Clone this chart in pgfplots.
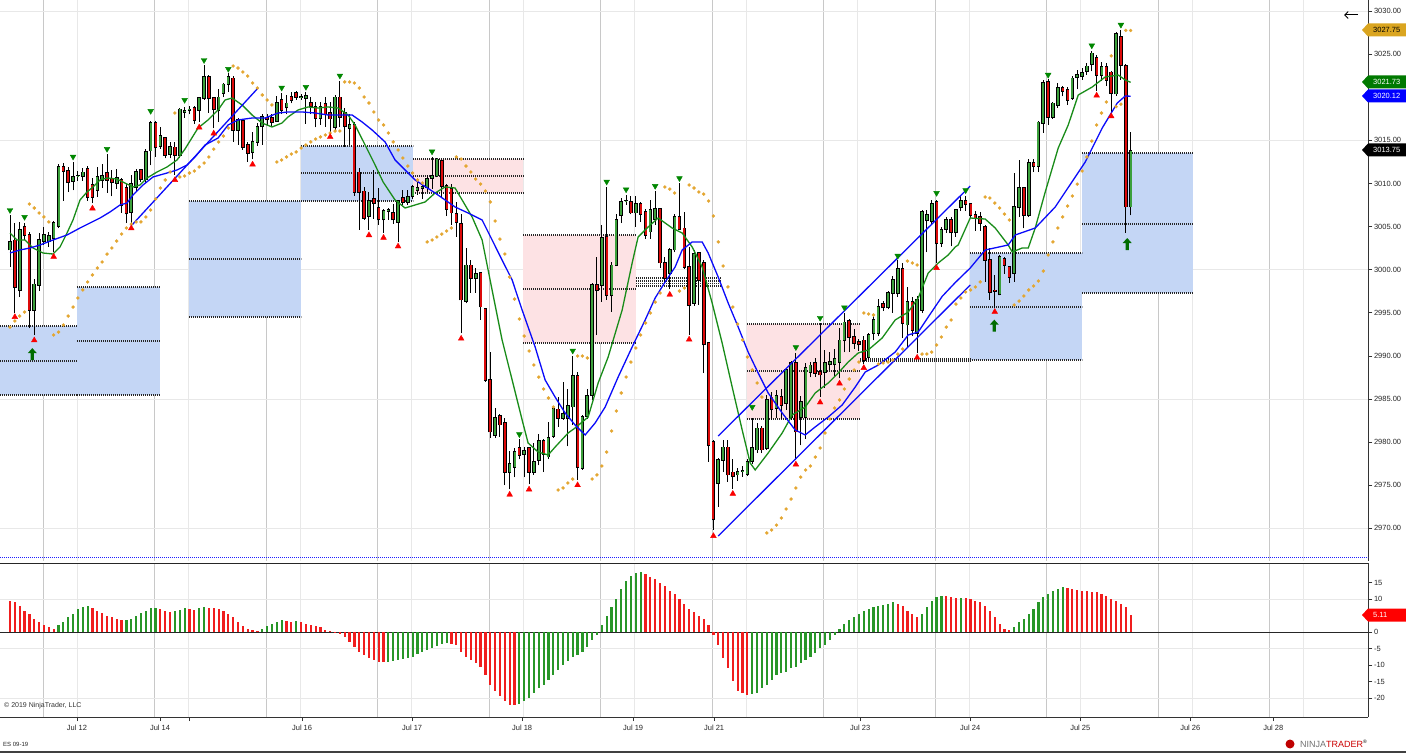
\documentclass[border=0pt]{standalone}
\usepackage{pgfplots}
\pgfplotsset{compat=1.18}
\usepackage{pgfplotstable}
\usepackage{fontspec}
\setmainfont{Liberation Sans}
\usetikzlibrary{arrows.meta}
\definecolor{upg}{RGB}{60,160,60}
\definecolor{dnr}{RGB}{220,10,10}
\definecolor{sar}{RGB}{228,166,48}
\definecolor{boxb}{RGB}{196,214,245}
\definecolor{boxp}{RGB}{253,226,228}
\definecolor{magreen}{RGB}{25,140,25}
\definecolor{mablue}{RGB}{10,10,250}
\definecolor{grd}{RGB}{200,200,200}
\definecolor{grl}{RGB}{232,232,232}
\definecolor{histg}{RGB}{40,150,40}
\definecolor{histr}{RGB}{240,30,30}
\definecolor{trig}{RGB}{0,135,0}
\definecolor{trir}{RGB}{250,0,0}
\definecolor{tagor}{RGB}{218,165,32}
\pgfdeclareplotmark{uparr}{%
  \pgfpathmoveto{\pgfpoint{0pt}{6pt}}%
  \pgfpathlineto{\pgfpoint{4.5pt}{1pt}}%
  \pgfpathlineto{\pgfpoint{1.6pt}{1pt}}%
  \pgfpathlineto{\pgfpoint{1.6pt}{-6pt}}%
  \pgfpathlineto{\pgfpoint{-1.6pt}{-6pt}}%
  \pgfpathlineto{\pgfpoint{-1.6pt}{1pt}}%
  \pgfpathlineto{\pgfpoint{-4.5pt}{1pt}}%
  \pgfpathclose\pgfusepathqfill}

\pgfplotstableread{
i o h l c s
0 3002.3 3006.3 3000.3 3003.2 2993.34
1 3003.4 3005.4 2995.0 2998.0 2994.04
2 2997.6 3005.5 2996.8 3004.6 2994.62
3 3005.0 3005.4 3003.4 3004.0 2995.08
4 3004.0 3004.4 2993.2 2995.3 3007.61
5 2995.3 2998.9 2992.4 2998.3 3007.15
6 2998.2 3004.3 2997.5 3003.5 3006.57
7 3003.3 3005.0 3002.9 3004.0 3006.11
8 3003.3 3004.4 3002.6 3003.9 3005.53
9 3003.6 3005.6 3002.0 3005.4 2992.42
10 3005.0 3012.2 3004.8 3011.9 2992.76
11 3011.9 3012.4 3008.0 3011.4 2993.58
12 3011.5 3011.9 3009.0 3010.1 2994.62
13 3010.3 3012.5 3009.2 3010.8 2995.66
14 3010.9 3011.5 3010.3 3010.9 2996.71
15 3010.8 3011.8 3010.3 3011.3 2997.64
16 3011.7 3012.0 3008.0 3008.4 2998.57
17 3009.8 3010.6 3007.7 3008.4 2999.38
18 3009.2 3011.9 3008.4 3010.8 3000.19
19 3010.4 3012.2 3009.5 3010.9 3000.89
20 3011.2 3013.4 3008.9 3010.4 3001.81
21 3010.5 3011.6 3008.5 3010.1 3002.51
22 3010.0 3011.7 3009.4 3010.7 3003.32
23 3010.4 3010.6 3006.6 3007.5 3004.13
24 3009.5 3010.0 3005.4 3006.5 3004.83
25 3006.7 3011.0 3005.4 3010.0 3005.29
26 3009.6 3011.7 3009.1 3011.4 3005.53
27 3011.6 3011.7 3010.2 3010.5 3005.53
28 3010.5 3014.0 3010.1 3013.7 3006.11
29 3013.8 3017.2 3012.1 3017.0 3006.92
30 3017.0 3017.2 3013.1 3014.2 3008.19
31 3014.3 3016.6 3014.0 3015.5 3009.47
32 3015.3 3015.4 3012.9 3013.3 3010.40
33 3013.4 3014.8 3012.9 3014.3 3011.33
34 3014.2 3014.8 3011.0 3013.3 3018.17
35 3013.3 3018.8 3012.9 3018.6 3010.75
36 3018.3 3018.9 3017.6 3018.4 3010.86
37 3018.5 3019.0 3018.0 3018.6 3011.21
38 3018.8 3019.0 3016.9 3017.3 3011.44
39 3018.5 3020.0 3017.1 3019.9 3011.91
40 3019.9 3023.7 3019.7 3022.4 3012.37
41 3022.4 3022.6 3018.2 3019.9 3013.07
42 3019.9 3020.0 3016.4 3018.6 3013.99
43 3018.5 3021.0 3017.1 3020.0 3014.81
44 3020.5 3021.6 3020.0 3021.5 3015.50
45 3021.5 3022.8 3020.6 3022.4 3016.43
46 3022.2 3022.5 3014.8 3016.2 3023.62
47 3016.2 3017.6 3014.5 3017.4 3023.39
48 3017.3 3017.5 3013.9 3014.2 3022.93
49 3014.5 3014.8 3012.5 3013.5 3022.46
50 3013.6 3016.0 3012.8 3014.8 3021.65
51 3014.8 3017.0 3014.4 3016.6 3021.07
52 3016.6 3018.1 3014.5 3017.7 3020.26
53 3017.6 3018.0 3016.8 3017.4 3019.68
54 3017.6 3018.1 3016.6 3017.1 3019.10
55 3017.2 3020.2 3017.1 3019.4 3012.49
56 3019.7 3020.5 3018.1 3018.5 3012.72
57 3018.8 3020.3 3018.0 3019.3 3013.07
58 3020.1 3020.6 3019.3 3019.7 3013.41
59 3020.5 3020.7 3019.7 3020.0 3013.65
60 3020.0 3020.4 3019.7 3020.1 3014.11
61 3019.9 3020.6 3016.9 3020.2 3014.46
62 3019.4 3020.0 3018.0 3019.0 3014.81
63 3018.9 3019.4 3016.5 3017.6 3015.15
64 3017.6 3019.5 3016.8 3018.9 3015.39
65 3019.2 3020.0 3016.6 3018.0 3015.62
66 3018.2 3019.4 3015.9 3017.5 3015.85
67 3016.5 3020.3 3016.2 3020.0 3016.08
68 3020.0 3021.9 3016.5 3017.7 3016.08
69 3018.2 3018.7 3014.2 3016.6 3021.77
70 3016.4 3018.0 3014.5 3016.8 3021.77
71 3016.8 3017.1 3008.6 3009.0 3021.65
72 3011.3 3011.8 3004.6 3009.0 3021.07
73 3009.1 3009.6 3005.8 3006.0 3020.03
74 3006.2 3009.0 3004.6 3008.0 3019.33
75 3008.2 3011.6 3005.9 3007.7 3018.29
76 3007.2 3009.5 3005.2 3005.8 3017.36
77 3005.8 3007.0 3004.3 3006.8 3016.78
78 3006.8 3007.2 3005.8 3006.9 3015.85
79 3006.6 3007.6 3005.3 3005.8 3014.81
80 3005.5 3008.1 3003.2 3008.0 3013.88
81 3008.3 3009.2 3007.5 3007.8 3012.95
82 3007.8 3009.2 3007.5 3008.5 3012.02
83 3008.5 3009.8 3008.2 3009.6 3011.21
84 3009.2 3010.4 3008.7 3009.5 3010.40
85 3009.4 3010.1 3008.2 3009.6 3010.05
86 3009.5 3011.0 3009.0 3010.5 3003.21
87 3010.6 3013.1 3009.4 3010.9 3003.44
88 3010.9 3013.0 3010.7 3012.8 3003.79
89 3012.6 3012.7 3008.3 3009.7 3004.13
90 3009.7 3009.9 3006.2 3007.0 3004.48
91 3009.4 3009.9 3005.2 3006.6 3004.83
92 3006.5 3007.8 3003.8 3005.5 3013.07
93 3005.3 3006.4 2992.6 2996.5 3012.83
94 2996.3 3002.5 2996.1 3000.5 3012.02
95 3000.5 3001.1 2997.3 2999.0 3011.33
96 2999.0 3000.2 2997.3 2999.5 3010.51
97 2999.6 2999.7 2994.2 2995.7 3009.93
98 2995.5 2995.6 2987.0 2987.2 3009.12
99 2987.2 2990.4 2980.5 2981.2 3007.85
100 2980.8 2984.0 2980.5 2982.8 3005.64
101 2983.0 2983.2 2980.6 2982.0 3003.55
102 2982.2 2982.8 2975.0 2976.5 3001.81
103 2976.5 2979.0 2974.5 2977.5 2999.14
104 2977.1 2979.3 2975.9 2978.9 2996.59
105 2979.3 2980.3 2978.0 2978.5 2994.27
106 2978.6 2979.4 2975.9 2979.0 2992.30
107 2979.3 2979.4 2975.1 2976.5 2990.56
108 2976.5 2979.9 2976.2 2977.7 2988.94
109 2977.9 2980.9 2977.3 2980.1 2987.54
110 2980.1 2980.3 2976.5 2978.6 2986.15
111 2978.3 2982.3 2978.0 2980.5 2985.11
112 2980.7 2984.1 2980.5 2983.9 2984.06
113 2983.8 2985.2 2981.8 2982.8 2974.44
114 2982.8 2987.0 2982.6 2983.3 2974.67
115 2982.8 2986.2 2979.5 2984.2 2975.25
116 2984.1 2990.0 2982.0 2987.7 2975.71
117 2987.7 2988.1 2975.6 2977.1 2989.98
118 2977.0 2983.1 2976.8 2982.9 2989.98
119 2983.0 2986.2 2982.7 2985.4 2989.75
120 2985.4 2998.4 2984.9 2998.2 2975.71
121 2998.2 3001.5 2992.4 2997.6 2976.18
122 2998.2 3005.2 2996.3 3003.7 2977.22
123 3003.8 3009.6 2996.5 2997.0 2978.84
124 2997.0 3000.9 2995.1 3000.5 2981.28
125 3000.5 3006.5 3000.4 3005.8 2983.60
126 3006.3 3008.3 3005.4 3007.9 2985.69
127 3008.0 3008.7 3007.5 3008.0 2987.54
128 3007.9 3008.6 3006.4 3006.6 2989.28
129 3006.6 3008.6 3005.0 3007.6 2990.91
130 3007.6 3007.8 3005.5 3006.4 2992.42
131 3006.7 3007.0 3003.6 3004.0 2993.81
132 3004.4 3008.1 3003.6 3006.9 2994.97
133 3005.8 3009.1 3005.2 3007.1 2996.24
134 3007.1 3007.2 3000.2 3000.8 2997.29
135 3000.8 3001.5 2998.4 2999.0 3009.59
136 2999.6 3002.5 2997.7 3002.3 3009.35
137 3002.3 3006.5 3002.0 3006.1 3008.89
138 3006.1 3010.0 3004.6 3004.7 2997.52
139 3004.8 3006.7 3000.1 3000.3 2997.87
140 3000.3 3002.6 2992.4 2995.9 3009.82
141 2996.1 3002.3 2995.8 3001.8 3009.47
142 3002.0 3002.1 2995.9 2998.8 3009.01
143 3000.8 3001.1 2988.0 2991.3 3008.77
144 2991.5 2991.6 2977.7 2979.6 3007.96
145 2980.0 2980.2 2969.8 2971.0 3006.22
146 2975.2 2978.2 2972.5 2977.9 3003.21
147 2977.9 2980.2 2976.5 2979.4 3000.42
148 2979.4 2980.2 2975.4 2976.2 2997.99
149 2976.5 2978.0 2974.6 2976.0 2995.66
150 2976.2 2977.0 2975.5 2976.6 2993.69
151 2976.6 2977.2 2976.0 2976.7 2991.84
152 2976.3 2978.0 2976.1 2977.7 2989.86
153 2977.8 2982.8 2977.4 2979.3 2988.36
154 2979.1 2982.2 2978.7 2981.6 2986.85
155 2981.6 2981.9 2978.7 2979.1 2985.22
156 2979.3 2985.4 2979.1 2984.9 2969.45
157 2985.2 2985.8 2982.6 2983.8 2969.79
158 2983.9 2986.0 2982.8 2985.4 2970.37
159 2985.3 2986.1 2982.7 2984.3 2971.19
160 2984.5 2988.6 2983.7 2988.4 2972.23
161 2982.9 2989.4 2982.6 2989.2 2973.39
162 2989.2 2990.3 2977.9 2981.2 2974.67
163 2982.9 2985.3 2979.6 2984.7 2975.94
164 2982.9 2989.2 2980.4 2988.6 2976.76
165 2988.1 2989.3 2987.5 2988.9 2977.22
166 2989.2 2989.7 2987.6 2988.0 2978.26
167 2988.2 2993.8 2985.2 2987.8 2979.31
168 2988.1 2990.7 2986.3 2989.2 2981.05
169 2989.0 2990.5 2988.3 2989.3 2982.67
170 2989.0 2990.8 2987.6 2989.7 2983.95
171 2989.3 2993.2 2987.4 2991.8 2984.88
172 2991.8 2995.0 2990.4 2993.9 2986.15
173 2994.1 2994.3 2990.5 2992.2 2987.31
174 2992.2 2993.1 2990.8 2991.5 2988.36
175 2991.6 2992.0 2990.6 2991.3 2989.28
176 2991.8 2992.3 2989.1 2989.5 2994.97
177 2989.8 2992.7 2989.5 2992.4 2994.85
178 2992.6 2994.6 2991.8 2994.2 2994.74
179 2992.6 2996.6 2992.3 2995.7 2989.05
180 2996.0 2996.4 2995.2 2995.6 2989.17
181 2995.6 2997.5 2995.4 2997.3 2989.28
182 2997.3 2999.3 2995.0 2998.8 2989.52
183 2997.3 3001.1 2996.8 3000.1 2990.21
184 3000.1 3000.8 2992.1 2993.8 2990.79
185 2993.6 2998.0 2991.0 2996.3 3001.00
186 2996.3 2996.8 2992.3 2993.0 3000.77
187 2992.6 2996.9 2990.3 2996.5 3000.54
188 2995.3 3006.9 2995.0 3006.7 2990.21
189 3005.7 3006.9 3002.0 3006.4 2990.21
190 3005.6 3008.1 3005.3 3007.6 2990.44
191 3007.9 3008.1 3000.8 3003.1 2991.26
192 3003.1 3005.0 3002.6 3004.6 2992.18
193 3004.7 3006.1 3004.3 3005.8 2993.34
194 3005.8 3006.1 3002.7 3004.3 2994.16
195 3004.3 3007.0 3003.8 3006.9 2996.01
196 3007.2 3008.5 3006.8 3008.0 2996.71
197 3008.0 3008.6 3006.8 3007.6 2997.41
198 3007.6 3007.7 3006.0 3006.3 2997.64
199 3006.4 3006.8 3004.5 3006.0 2997.99
200 3006.1 3006.7 3004.5 3005.4 2998.57
201 3005.0 3005.2 2998.6 3001.1 3008.43
202 3001.1 3002.5 2996.5 2997.4 3008.31
203 2997.6 2999.4 2995.6 2997.5 3007.73
204 2997.1 3001.7 2997.0 3001.5 3007.15
205 3001.3 3001.5 2999.5 3000.5 3006.45
206 3000.3 3000.4 2998.5 2999.1 3005.76
207 2999.6 3011.2 2998.6 3007.3 2995.90
208 3007.2 3012.7 3006.1 3009.5 2996.36
209 3009.5 3009.6 3004.8 3006.3 2996.94
210 3006.3 3012.8 3006.1 3012.4 2997.64
211 3012.4 3012.8 3011.3 3012.0 2998.10
212 3012.0 3017.3 3011.3 3017.1 2998.68
213 3017.0 3022.0 3015.9 3021.7 2999.84
214 3021.8 3022.1 3016.8 3017.7 3001.70
215 3017.7 3019.5 3017.5 3019.3 3003.21
216 3019.1 3021.6 3018.8 3021.1 3004.83
217 3021.1 3021.3 3020.1 3020.7 3006.11
218 3020.9 3021.2 3019.1 3019.7 3007.38
219 3019.9 3022.5 3019.7 3022.2 3008.54
220 3022.3 3023.2 3020.9 3022.6 3009.93
221 3022.4 3023.4 3022.0 3022.8 3011.44
222 3023.0 3024.0 3022.6 3023.6 3013.07
223 3023.8 3025.4 3023.0 3025.1 3014.92
224 3024.6 3024.9 3020.7 3022.6 3016.78
225 3022.6 3024.1 3021.9 3023.5 3018.17
226 3023.5 3024.0 3021.3 3022.0 3019.45
227 3022.9 3023.0 3018.3 3020.5 3024.80
228 3020.4 3027.6 3020.2 3027.4 3018.90
229 3027.0 3027.75 3022.0 3023.7 3019.20
230 3023.7 3023.8 3004.3 3007.3 3027.75
231 3007.3 3016.0 3006.3 3013.75 3027.75
}\candles

\pgfplotstableread{
i v g
0 9.5 0
1 9.0 0
2 8.0 0
3 6.5 0
4 5.5 0
5 4.0 0
6 3.0 0
7 2.0 0
8 1.5 0
9 1.0 0
10 2.0 1
11 3.0 1
12 4.5 1
13 5.5 1
14 7.0 1
15 7.5 1
16 7.8 1
17 7.2 0
18 6.5 0
19 5.8 0
20 5.0 0
21 4.5 0
22 4.0 0
23 3.5 0
24 3.7 1
25 4.0 1
26 4.8 1
27 5.8 1
28 6.5 1
29 7.2 1
30 7.4 1
31 7.0 0
32 6.3 0
33 6.0 0
34 6.3 1
35 6.8 1
36 7.2 1
37 7.1 0
38 6.8 0
39 7.2 1
40 7.6 1
41 7.3 0
42 7.2 0
43 7.0 0
44 6.5 0
45 5.5 0
46 4.5 0
47 3.0 0
48 1.8 0
49 1.0 0
50 0.5 0
51 0.4 0
52 1.0 1
53 1.8 1
54 2.5 1
55 3.0 1
56 3.5 1
57 3.3 0
58 3.0 0
59 3.2 1
60 3.0 0
61 2.5 0
62 2.0 0
63 1.8 0
64 1.5 0
65 0.5 0
66 0.2 0
67 0.1 0
68 -0.5 0
69 -1.5 0
70 -3.0 0
71 -4.5 0
72 -6.0 0
73 -7.0 0
74 -7.8 0
75 -8.5 0
76 -9.0 0
77 -9.2 0
78 -9.0 1
79 -8.9 1
80 -8.5 1
81 -8.2 1
82 -8.0 1
83 -7.5 1
84 -6.7 1
85 -6.0 1
86 -5.5 1
87 -4.8 1
88 -4.2 1
89 -3.5 1
90 -3.3 1
91 -3.5 0
92 -4.0 0
93 -6.0 0
94 -7.5 0
95 -8.5 0
96 -9.5 0
97 -10.5 0
98 -13.0 0
99 -16.0 0
100 -18.0 0
101 -19.5 0
102 -21.0 0
103 -22.0 0
104 -22.2 0
105 -21.8 1
106 -21.0 1
107 -20.0 1
108 -18.5 1
109 -17.0 1
110 -16.0 1
111 -14.5 1
112 -13.0 1
113 -11.5 1
114 -10.0 1
115 -8.8 1
116 -7.5 1
117 -7.0 1
118 -6.0 1
119 -4.5 1
120 -2.5 1
121 -1.0 1
122 2.0 1
123 5.0 1
124 7.5 1
125 10.0 1
126 13.0 1
127 15.5 1
128 17.0 1
129 17.8 1
130 18.3 1
131 17.5 0
132 16.8 0
133 16.0 0
134 15.0 0
135 14.0 0
136 12.5 0
137 11.5 0
138 10.0 0
139 8.5 0
140 7.0 0
141 6.0 0
142 5.0 0
143 4.0 0
144 2.0 0
145 -1.0 0
146 -4.0 0
147 -8.0 0
148 -11.0 0
149 -15.0 0
150 -18.0 0
151 -18.5 0
152 -19.0 0
153 -18.8 1
154 -18.5 1
155 -17.0 1
156 -16.0 1
157 -14.5 1
158 -13.0 1
159 -12.5 1
160 -12.0 1
161 -11.0 1
162 -10.5 1
163 -9.5 1
164 -8.5 1
165 -7.5 1
166 -6.5 1
167 -5.0 1
168 -4.0 1
169 -2.5 1
170 -1.0 1
171 1.0 1
172 2.5 1
173 3.5 1
174 4.5 1
175 5.5 1
176 6.5 1
177 7.0 1
178 7.5 1
179 8.0 1
180 8.2 1
181 8.5 1
182 9.0 1
183 8.5 0
184 7.8 0
185 6.5 0
186 5.5 0
187 4.5 0
188 5.5 1
189 7.5 1
190 9.5 1
191 10.5 1
192 11.0 1
193 10.8 0
194 10.5 0
195 10.3 0
196 10.4 1
197 10.3 0
198 10.0 0
199 9.5 0
200 9.0 0
201 8.0 0
202 6.5 0
203 4.5 0
204 2.5 0
205 1.0 0
206 0.5 0
207 1.5 1
208 3.0 1
209 4.0 1
210 5.5 1
211 7.0 1
212 9.0 1
213 10.5 1
214 11.5 1
215 12.3 1
216 13.0 1
217 13.5 1
218 13.4 0
219 13.0 0
220 12.8 0
221 12.5 0
222 12.3 0
223 12.2 0
224 12.0 0
225 11.5 0
226 11.0 0
227 10.0 0
228 9.5 0
229 8.5 0
230 7.5 0
231 5.11 0
}\hist

\begin{document}
\begin{tikzpicture}[x=1pt,y=1pt]
\useasboundingbox (0,0) rectangle (1406,753);
\fill[white] (0,0) rectangle (1406,753);

\begin{axis}[
  at={(0pt,192pt)}, anchor=south west, scale only axis,
  width=1368pt, height=561pt,
  xmin=-2.062, xmax=280.0, ymin=2966.20, ymax=3031.28,
  axis x line=none, axis y line*=right,
  y axis line style={draw=black!80, line width=0.8pt, -},
  ytick={2970,2975,...,3030},
  yticklabel={\pgfmathprintnumber[fixed,fixed zerofill,precision=2,1000 sep={}]{\tick}},
  /pgf/number format/assume math mode=true,
  tick align=outside, major tick length=4pt,
  every tick/.style={black!80, line width=0.6pt},
  yticklabel style={font=\fontsize{7.5}{9}\selectfont, text=black!85, inner sep=1.5pt},
]
% grid
\pgfplotsinvokeforeach{6.80,29.79,52.78,75.77,98.76,121.75,144.74,167.73,190.72,213.71,236.70,259.69}{
  \draw[grd, line width=0.8pt] (axis cs:#1,2966.2) -- (axis cs:#1,3031.28);}
\pgfplotsinvokeforeach{13.81,36.80,59.79,82.78,105.77,128.76,151.75,174.74,197.73,220.72,243.71,266.70}{
  \draw[grl, line width=0.8pt] (axis cs:#1,2966.2) -- (axis cs:#1,3031.28);}
\pgfplotsinvokeforeach{2970,2985,3000,3015,3030}{
  \draw[grl, line width=0.8pt] (axis cs:-2.062,#1) -- (axis cs:280,#1);}

% boxes
\addplot[fill=boxb, draw=none] coordinates {(-2.062,2985.46) (13.81,2985.46) (13.81,2993.46) (-2.062,2993.46)};
\addplot[fill=boxb, draw=none] coordinates {(13.81,2985.46) (30.93,2985.46) (30.93,2997.99) (13.81,2997.99)};
\addplot[fill=boxb, draw=none] coordinates {(36.91,2994.50) (60.00,2994.50) (60.00,3007.96) (36.91,3007.96)};
\addplot[fill=boxb, draw=none] coordinates {(60.00,3007.96) (83.09,3007.96) (83.09,3014.34) (60.00,3014.34)};
\addplot[fill=boxp, draw=none] coordinates {(83.09,3008.89) (105.77,3008.89) (105.77,3012.83) (83.09,3012.83)};
\addplot[fill=boxp, draw=none] coordinates {(105.77,2991.49) (129.07,2991.49) (129.07,3004.02) (105.77,3004.02)};
\addplot[fill=boxp, draw=none] coordinates {(151.96,2982.67) (175.26,2982.67) (175.26,2993.69) (151.96,2993.69)};
\addplot[fill=boxb, draw=none] coordinates {(197.94,2989.52) (221.03,2989.52) (221.03,3001.93) (197.94,3001.93)};
\addplot[fill=boxb, draw=none] coordinates {(221.03,2997.29) (243.92,2997.29) (243.92,3013.53) (221.03,3013.53)};

\pgfplotsset{dotl/.style={black!85, line width=1.2pt, dash pattern=on 1pt off 1pt, forget plot}}
\addplot[dotl] coordinates {(-2.062,2993.46) (13.81,2993.46)};
\addplot[dotl] coordinates {(-2.062,2989.40) (13.81,2989.40)};
\addplot[dotl] coordinates {(-2.062,2985.46) (13.81,2985.46)};
\addplot[dotl] coordinates {(13.81,2997.99) (30.93,2997.99)};
\addplot[dotl] coordinates {(13.81,2991.72) (30.93,2991.72)};
\addplot[dotl] coordinates {(13.81,2985.46) (30.93,2985.46)};
\addplot[dotl] coordinates {(36.91,3007.96) (60.00,3007.96)};
\addplot[dotl] coordinates {(36.91,3001.23) (60.00,3001.23)};
\addplot[dotl] coordinates {(36.91,2994.50) (60.00,2994.50)};
\addplot[dotl] coordinates {(60.00,3014.34) (83.09,3014.34)};
\addplot[dotl] coordinates {(60.00,3011.21) (83.09,3011.21)};
\addplot[dotl] coordinates {(60.00,3007.96) (83.09,3007.96)};
\addplot[dotl] coordinates {(83.09,3012.83) (105.77,3012.83)};
\addplot[dotl] coordinates {(83.09,3010.86) (105.77,3010.86)};
\addplot[dotl] coordinates {(83.09,3008.89) (105.77,3008.89)};
\addplot[dotl] coordinates {(105.77,3004.02) (129.07,3004.02)};
\addplot[dotl] coordinates {(105.77,2997.75) (129.07,2997.75)};
\addplot[dotl] coordinates {(105.77,2991.49) (129.07,2991.49)};
\addplot[dotl] coordinates {(129.07,2999.03) (146.39,2999.03)};
\addplot[dotl] coordinates {(129.07,2998.68) (146.39,2998.68)};
\addplot[dotl] coordinates {(129.07,2998.39) (146.39,2998.39)};
\addplot[dotl] coordinates {(129.07,2998.10) (146.39,2998.10)};
\addplot[dotl] coordinates {(151.96,2993.69) (175.26,2993.69)};
\addplot[dotl] coordinates {(151.96,2988.24) (175.26,2988.24)};
\addplot[dotl] coordinates {(151.96,2982.67) (175.26,2982.67)};
\addplot[dotl] coordinates {(175.26,2989.63) (197.94,2989.63)};
\addplot[dotl] coordinates {(175.26,2989.40) (197.94,2989.40)};
\addplot[dotl] coordinates {(197.94,3001.93) (221.03,3001.93)};
\addplot[dotl] coordinates {(197.94,2995.67) (221.03,2995.67)};
\addplot[dotl] coordinates {(197.94,2989.52) (221.03,2989.52)};
\addplot[dotl] coordinates {(221.03,3013.53) (243.92,3013.53)};
\addplot[dotl] coordinates {(221.03,3005.29) (243.92,3005.29)};
\addplot[dotl] coordinates {(221.03,2997.29) (243.92,2997.29)};
\addplot[color={rgb,255:red,30;green,30;blue,255}, line width=1pt, dash pattern=on 1pt off 1pt] coordinates {(-2.062,2966.66) (280,2966.66)};

% parabolic SAR
\addplot[only marks, mark=*, mark size=1.5pt, mark options={draw=sar, fill=sar}] table[x=i, y=s] {\candles};

% candles: wicks
\addplot[black, line width=1pt, quiver={u=0, v=\thisrow{h}-\thisrow{l}}] table[x=i, y=l] {\candles};
% up bodies
\addplot[black, line width=3.6pt, quiver={u=0, v=\thisrow{c}-\thisrow{o}+0.16},
  restrict expr to domain={\thisrow{c}-\thisrow{o}}{0:1000}] table[x=i, y expr=\thisrow{o}-0.08] {\candles};
\addplot[upg, line width=2.0pt, quiver={u=0, v=\thisrow{c}-\thisrow{o}-0.04},
  restrict expr to domain={\thisrow{c}-\thisrow{o}}{0:1000}] table[x=i, y expr=\thisrow{o}+0.02] {\candles};
% down bodies
\addplot[black, line width=3.6pt, quiver={u=0, v=\thisrow{o}-\thisrow{c}+0.16},
  restrict expr to domain={\thisrow{c}-\thisrow{o}}{-1000:-0.001}] table[x=i, y expr=\thisrow{c}-0.08] {\candles};
\addplot[dnr, line width=2.0pt, quiver={u=0, v=\thisrow{o}-\thisrow{c}-0.04},
  restrict expr to domain={\thisrow{c}-\thisrow{o}}{-1000:-0.001}] table[x=i, y expr=\thisrow{c}+0.02] {\candles};

% moving averages
\addplot[magreen, line width=1.3pt] coordinates {(0,3004.25) (1.44,3003.44) (3.09,3003.44) (4.74,3002.51) (6.80,3001.93) (8.87,3001.81) (10.31,3002.63) (11.75,3004.25) (12.99,3005.76) (14.43,3008.08) (15.88,3009.01) (17.11,3009.59) (18.56,3010.40) (20.0,3010.63) (22.06,3010.51) (24.12,3009.93) (25.36,3009.59) (26.80,3009.82) (28.25,3010.63) (30.31,3011.33) (32.37,3011.91) (34.43,3012.72) (36.08,3014.0) (38.76,3016.43) (40.82,3017.36) (42.89,3018.52) (44.33,3019.68) (45.77,3019.91) (47.84,3019.10) (49.90,3017.94) (51.96,3017.01) (54.02,3016.55) (56.08,3017.01) (57.32,3017.71) (59.38,3018.52) (61.44,3018.87) (63.51,3018.75) (65.57,3018.87) (67.63,3018.75) (69.69,3017.94) (71.13,3016.78) (73.20,3014.46) (75.26,3012.14) (76.91,3010.17) (79.38,3008.08) (81.44,3007.15) (83.51,3007.50) (85.57,3007.85) (87.63,3008.89) (89.69,3009.59) (91.75,3009.47) (93.20,3008.08) (95.26,3006.11) (97.32,3003.44) (99.38,2997.64) (101.44,2991.84) (103.51,2987.20) (105.57,2982.56) (106.80,2979.89) (108.87,2978.84) (110.93,2978.50) (112.37,2979.42) (115.05,2981.05) (116.49,2981.63) (119.18,2982.90) (121.24,2986.85) (123.30,2989.86) (126.19,2995.32) (128.25,3000.77) (129.48,3003.79) (131.55,3004.95) (133.61,3005.99) (136.49,3004.83) (138.56,3004.25) (140.62,3002.63) (142.68,3000.31) (144.74,2996.13) (146.80,2991.49) (148.87,2986.38) (150.93,2981.40) (152.58,2977.57) (153.61,2976.76) (156.29,2978.73) (159.18,2981.05) (161.24,2983.14) (163.92,2984.06) (165.98,2985.69) (168.66,2986.85) (170.72,2988.01) (172.78,2989.28) (174.85,2990.33) (176.91,2990.68) (179.79,2992.07) (182.47,2994.16) (185.15,2995.08) (187.22,2996.71) (189.28,2999.61) (191.34,3000.77) (193.40,3001.70) (194.85,3002.63) (195.46,3002.86) (197.94,3005.99) (201.03,3005.87) (203.09,3004.83) (205.77,3002.86) (206.60,3002.05) (208.66,3002.51) (209.90,3002.51) (211.34,3004.83) (213.40,3009.01) (216.08,3014.11) (218.14,3016.78) (220.21,3020.26) (223.09,3021.19) (225.77,3022.35) (228.45,3022.58) (229.90,3022.00) (231,3021.73)};
\addplot[mablue, line width=1.3pt] coordinates {(0,3001.93) (2.06,3002.28) (4.12,3002.51) (6.19,3002.86) (8.87,3003.44) (11.75,3004.02) (14.43,3004.83) (16.49,3005.41) (18.56,3005.99) (20.62,3006.69) (22.68,3007.50) (24.12,3007.73) (25.36,3008.66) (27.42,3009.82) (29.48,3010.75) (32.37,3011.21) (34.43,3011.56) (36.49,3012.14) (38.14,3013.07) (40.21,3014.46) (42.89,3015.27) (44.95,3016.78) (47.01,3017.36) (49.90,3017.59) (52.58,3017.59) (55.26,3018.17) (57.32,3018.29) (60.21,3018.29) (62.89,3018.17) (65.57,3017.94) (68.45,3017.94) (70.52,3017.94) (72.58,3017.13) (74.64,3016.20) (77.32,3014.81) (79.38,3012.72) (83.51,3010.40) (87.63,3008.89) (91.75,3007.27) (94.43,3006.57) (97.32,3005.76) (99.38,3003.44) (101.44,3001.11) (103.51,2998.80) (105.57,2995.32) (108.25,2991.03) (110.31,2987.20) (112.37,2985.22) (114.43,2983.37) (116.49,2981.98) (118.56,2980.82) (120.62,2982.21) (122.68,2984.06) (125.36,2987.54) (128.25,2991.03) (130.93,2994.16) (132.99,2996.71) (135.05,2998.57) (137.11,3000.31) (138.56,3002.28) (140.62,3003.21) (142.68,3003.21) (143.92,3001.93) (145.98,2999.15) (148.04,2996.13) (150.10,2993.35) (152.16,2990.44) (154.23,2988.01) (156.29,2985.69) (159.18,2983.37) (161.86,2981.40) (163.92,2980.82) (165.98,2981.75) (168.66,2982.90) (171.55,2984.30) (174.23,2986.38) (176.29,2988.12) (179.01,2988.94) (182.47,2990.44) (185.15,2992.42) (187.22,2992.76) (189.28,2994.50) (192.16,2996.90) (194.85,2998.50) (197.94,3000.19) (201.03,3002.28) (205.77,3002.86) (207.22,3004.02) (211.34,3004.83) (215.46,3007.27) (221.65,3012.49) (225.15,3016.43) (228.25,3019.33) (229.90,3020.14) (231,3020.12)};

% trend lines
\addplot[mablue, line width=1.3pt] coordinates {(25.15,3005.18) (51.13,3021.07)};
\addplot[mablue, line width=1.3pt] coordinates {(145.98,2980.70) (197.94,3009.70)};
\addplot[mablue, line width=1.3pt] coordinates {(145.98,2969.10) (197.94,2998.22)};

% swing markers
\addplot[only marks, mark=triangle*, mark size=3.3pt, mark options={fill=trig, draw=trig, rotate=180}] coordinates {(0,3006.9) (3,3006.11) (13,3013.1) (20,3014.0) (29,3018.4) (36,3019.68) (40,3024.3) (45,3023.28) (56,3021.1) (61,3021.19) (68,3022.5) (87,3013.7) (105,2980.9) (116,2990.6) (123,3010.2) (127,3009.3) (133,3009.7) (138,3010.6) (153,2984.06) (162,2991.0) (167,2994.4) (172,2995.6) (183,3001.6) (191,3008.89) (197,3009.2) (214,3022.6) (223,3026.0) (229,3028.4)};
\addplot[only marks, mark=triangle*, mark size=3.3pt, mark options={fill=trir, draw=trir}] coordinates {(1,2994.5) (5,2991.8) (9,3001.5) (17,3007.1) (25,3004.8) (34,3010.4) (39,3016.5) (42,3015.8) (50,3012.2) (66,3015.4) (74,3004.0) (77,3003.7) (80,3002.7) (93,2992.0) (103,2973.9) (107,2974.5) (117,2975.0) (136,2997.1) (140,2991.9) (145,2969.1) (149,2974.0) (162,2977.4) (167,2984.6) (171,2986.8) (176,2988.6) (187,2989.8) (191,3000.2) (203,2995.1) (224,3020.2) (227,3017.8)};
\addplot[only marks, mark=uparr, mark options={fill=trig!80!black}] coordinates {(4.6,2990.2) (202.9,2993.5) (230.3,3002.97)};
\end{axis}

\begin{axis}[
  at={(0pt,36pt)}, anchor=south west, scale only axis,
  width=1368pt, height=154pt,
  xmin=-2.062, xmax=280.0, ymin=-25.76, ymax=20.91,
  axis x line*=bottom, axis y line*=right,
  axis line style={draw=black!80, line width=0.8pt, -},
  ytick={-20,-15,-10,-5,0,10,15},
  extra y ticks={5}, extra y tick labels={},
  xtick={13.81,30.93,36.91,60.21,82.89,105.57,128.45,145.15,175.26,197.94,220.62,243.30,260.41},
  xticklabels={Jul 12,Jul 14,,Jul 16,Jul 17,Jul 18,Jul 19,Jul 21,Jul 23,Jul 24,Jul 25,Jul 26,Jul 28},
  /pgf/number format/assume math mode=true,
  tick align=outside, major tick length=4pt,
  every tick/.style={black!80, line width=0.6pt},
  yticklabel style={font=\fontsize{7.5}{9}\selectfont, text=black!85, inner sep=1.5pt},
  xticklabel style={font=\fontsize{7.5}{9}\selectfont, text=black!85, inner sep=1.5pt, yshift=-2pt},
]
\pgfplotsinvokeforeach{6.80,29.79,52.78,75.77,98.76,121.75,144.74,167.73,190.72,213.71,236.70,259.69}{
  \draw[grd, line width=0.8pt] (axis cs:#1,-25.76) -- (axis cs:#1,20.91);}
\pgfplotsinvokeforeach{13.81,36.80,59.79,82.78,105.77,128.76,151.75,174.74,197.73,220.72,243.71,266.70}{
  \draw[grl, line width=0.8pt] (axis cs:#1,-25.76) -- (axis cs:#1,20.91);}
\pgfplotsinvokeforeach{10,-5,-20}{
  \draw[grl, line width=0.8pt] (axis cs:-2.062,#1) -- (axis cs:280,#1);}
\draw[black!85, line width=0.8pt] (axis cs:-2.062,0) -- (axis cs:280,0);
\draw[black!85, line width=0.8pt] (axis cs:-2.062,20.91) -- (axis cs:280,20.91);
\addplot[ycomb, histg, line width=2.2pt, mark=none, restrict expr to domain={\thisrow{g}}{0.5:1.5}] table[x=i, y=v] {\hist};
\addplot[ycomb, histr, line width=2.2pt, mark=none, restrict expr to domain={\thisrow{g}}{-0.5:0.5}] table[x=i, y=v] {\hist};
\end{axis}

% price tags
\newcommand{\ptag}[4]{%
  \fill[#2] (1362,#1) -- (1368,#1+6.5) -- (1406,#1+6.5) -- (1406,#1-6.5) -- (1368,#1-6.5) -- cycle;
  \node[anchor=west, inner sep=0pt, text=#3, font=\fontsize{7.5}{9}\selectfont] at (1373,#1) {#4};}
\ptag{723}{tagor}{black}{3027.75}
\ptag{671}{trig!90!black}{white}{3021.73}
\ptag{657}{blue}{white}{3020.12}
\ptag{603}{black}{white}{3013.75}
\ptag{138}{red}{white}{5.11}

% back arrow
\draw[line width=1pt, -{Straight Barb[length=3.5pt,width=7pt]}] (1358,738) -- (1344,738);

\node[anchor=west, inner sep=0pt, text=black!80, font=\fontsize{7}{8}\selectfont] at (4,47) {© 2019 NinjaTrader, LLC};
\node[anchor=west, inner sep=0pt, text=black!85, font=\fontsize{6}{7}\selectfont] at (3,9) {ES 09-19};
\node[anchor=west, inner sep=0pt, font=\fontsize{9}{10}\selectfont] at (1300,9) {\textcolor{black!55}{NINJA}\textcolor{red!80!black}{TRADER}\textsuperscript{\tiny ®}};
\fill[red!75!black] (1290,9) circle (4.5);
\fill[black!75] (0,0) rectangle (1406,2.5);
\end{tikzpicture}
\end{document}
